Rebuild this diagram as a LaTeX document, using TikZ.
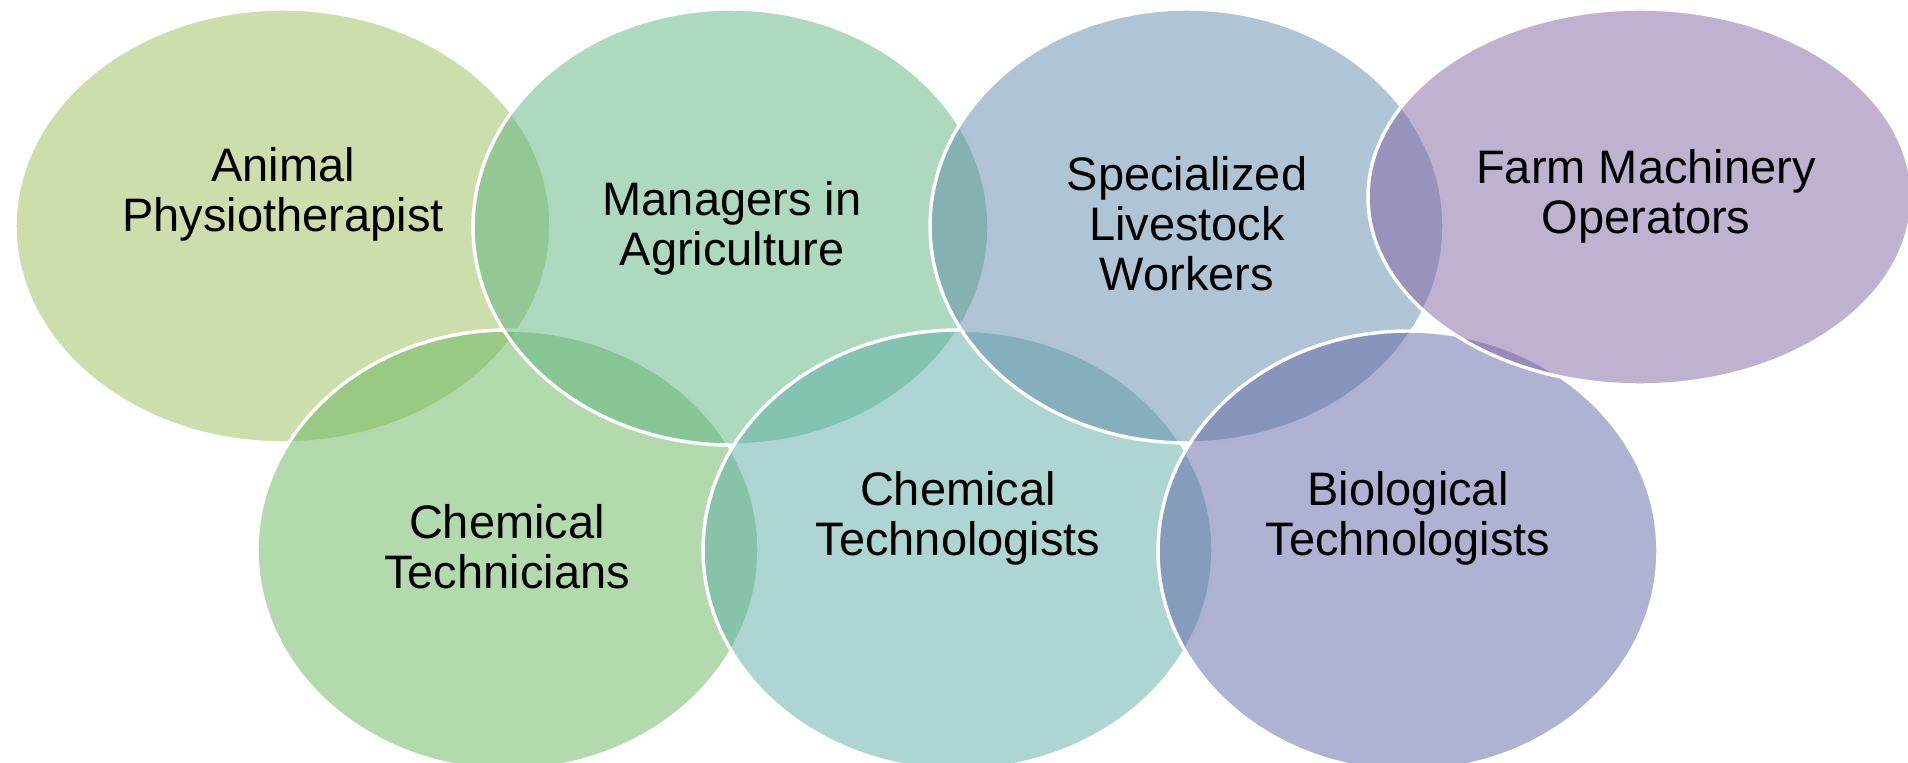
\documentclass[tikz,border=0pt]{standalone}
\usepackage{fontspec}
\setmainfont{Liberation Sans}
\usetikzlibrary{shapes.geometric}
\definecolor{cA}{RGB}{155,187,89}
\definecolor{cM}{RGB}{91,179,125}
\definecolor{cS}{RGB}{95,137,169}
\definecolor{cF}{RGB}{128,100,162}
\definecolor{cCT}{RGB}{101,181,91}
\definecolor{cCG}{RGB}{91,173,165}
\definecolor{cB}{RGB}{95,101,165}
\tikzset{
  venn/.style={ellipse, draw=white, line width=2.6pt, fill opacity=0.5, inner sep=0pt, outer sep=0pt},
  lbl/.style={font=\fontsize{35.25pt}{37.5pt}\selectfont, align=center, anchor=base, inner sep=0pt, text=black}
}
\begin{document}
\begin{tikzpicture}[x=0.75pt,y=-0.75pt]
\useasboundingbox (0,0) rectangle (1908,763);
\clip (0,0) rectangle (1908,763);
\node[venn, fill=cA,  minimum width=402pt,   minimum height=325.5pt] (eA)  at (283,226) {};
\node[venn, fill=cCT, minimum width=376.5pt, minimum height=330pt]   (eCT) at (508,550) {};
\node[venn, fill=cM,  minimum width=387pt,   minimum height=327pt]   (eM)  at (731,227) {};
\node[venn, fill=cCG, minimum width=382.5pt, minimum height=330pt]   (eCG) at (958,550) {};
\node[venn, fill=cS,  minimum width=385.5pt, minimum height=325.5pt] (eS)  at (1187,226) {};
\node[venn, fill=cB,  minimum width=375pt,   minimum height=330pt]   (eB)  at (1408,551) {};
\node[venn, fill=cF,  minimum width=408pt,   minimum height=282pt]   (eF)  at (1640,197) {};
\node[lbl] (tA)  at (283,231)  {Animal\\Physiotherapist};
\node[lbl] (tM)  at (732,265)  {Managers in\\Agriculture};
\node[lbl] (tS)  at (1187,290) {Specialized\\Livestock\\Workers};
\node[lbl] (tF)  at (1646,233) {Farm Machinery\\Operators};
\node[lbl] (tCT) at (507,588)  {Chemical\\Technicians};
\node[lbl] (tCG) at (958,555)  {Chemical\\Technologists};
\node[lbl] (tB)  at (1408,555) {Biological\\Technologists};
\end{tikzpicture}
\end{document}
